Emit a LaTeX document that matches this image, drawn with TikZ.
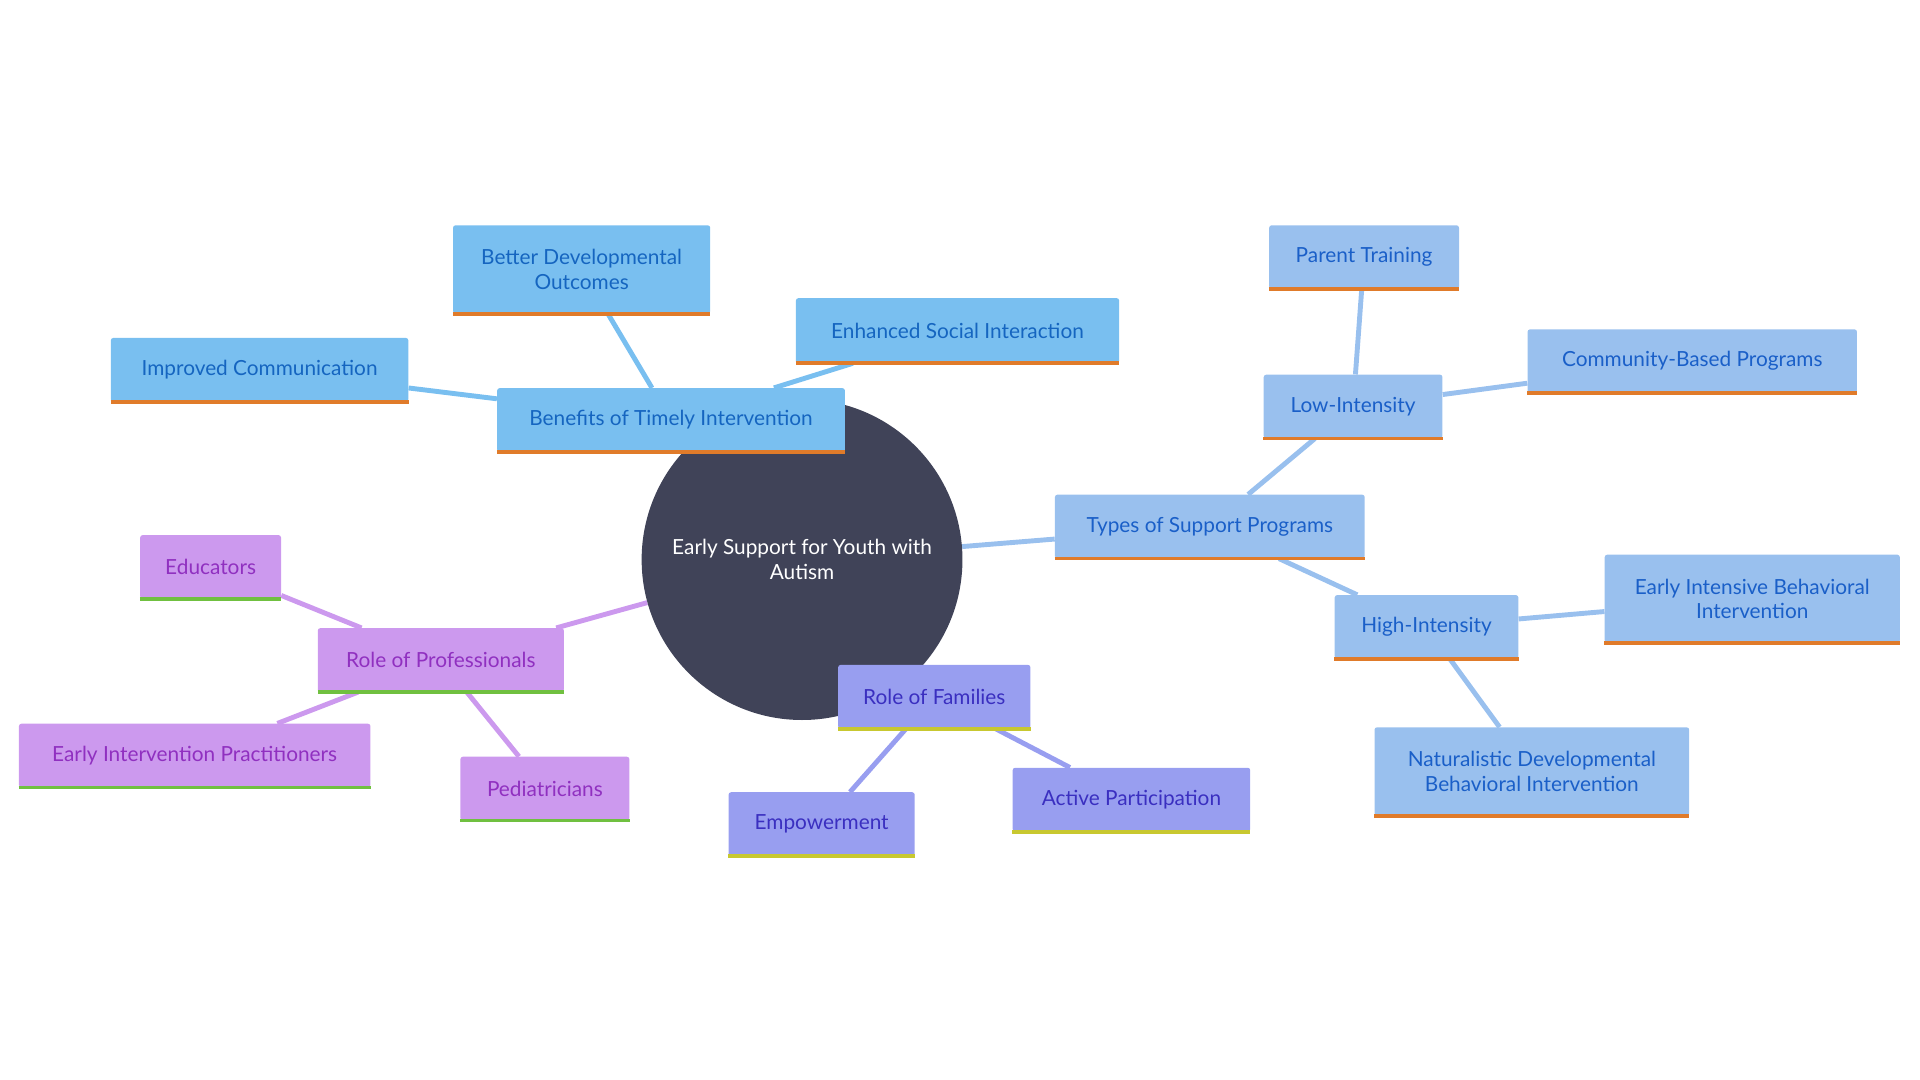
\documentclass[tikz,border=0pt]{standalone}
\usepackage{fontspec}
\setmainfont{Lato}
\usetikzlibrary{backgrounds}
\definecolor{hubfill}{HTML}{404358}
\definecolor{bluefill}{HTML}{79BFF0}
\definecolor{bluetext}{HTML}{1565C0}
\definecolor{skyfill}{HTML}{99C0EE}
\definecolor{skytext}{HTML}{1A5FC8}
\definecolor{violetfill}{HTML}{989EF0}
\definecolor{violettext}{HTML}{3A2FC0}
\definecolor{lilacfill}{HTML}{CC99EE}
\definecolor{lilactext}{HTML}{9030C0}
\definecolor{orangeline}{HTML}{E07B2A}
\definecolor{yellowline}{HTML}{C8C830}
\definecolor{greenline}{HTML}{70C040}
\begin{document}
\begin{tikzpicture}[x=1pt,y=-1pt,
    box/.style={rectangle,rounded corners=2pt,inner sep=0pt,align=center,
                font=\fontsize{17}{20}\selectfont},
    benefit/.style={box,fill=bluefill,text=bluetext},
    program/.style={box,fill=skyfill,text=skytext},
    family/.style={box,fill=violetfill,text=violettext},
    expert/.style={box,fill=lilacfill,text=lilactext},
    link/.style={line width=4pt}]
  \useasboundingbox (0,0) rectangle (1568,882);

  \node[circle,fill=hubfill,text=white,minimum size=262pt,align=center,
        font=\fontsize{17}{20}\selectfont] (hub) at (655,457) {Early Support for Youth with\\Autism};

  \node[benefit,minimum width=284pt,minimum height=52pt] (benefits) at (548,343) {Benefits of Timely Intervention};
  \node[benefit,minimum width=210pt,minimum height=72pt] (better) at (475,220) {Better Developmental\\Outcomes};
  \node[benefit,minimum width=264pt,minimum height=53pt] (social) at (782,270) {Enhanced Social Interaction};
  \node[benefit,minimum width=243pt,minimum height=52pt] (comm) at (212,302) {Improved Communication};

  \node[program,minimum width=253pt,minimum height=52pt] (types) at (988,430) {Types of Support Programs};
  \node[program,minimum width=146pt,minimum height=52pt] (low) at (1105,332) {Low-Intensity};
  \node[program,minimum width=155pt,minimum height=52pt] (parent) at (1114,210) {Parent Training};
  \node[program,minimum width=269pt,minimum height=52pt] (community) at (1382,295) {Community-Based Programs};
  \node[program,minimum width=150pt,minimum height=52pt] (high) at (1165,512) {High-Intensity};
  \node[program,minimum width=241pt,minimum height=72pt] (eibi) at (1431,489) {Early Intensive Behavioral\\Intervention};
  \node[program,minimum width=257pt,minimum height=72pt] (ndbi) at (1251,630) {Naturalistic Developmental\\Behavioral Intervention};

  \node[family,minimum width=157pt,minimum height=52pt] (families) at (763,569) {Role of Families};
  \node[family,minimum width=152pt,minimum height=52pt] (empower) at (671,673) {Empowerment};
  \node[family,minimum width=194pt,minimum height=52pt] (active) at (924,653) {Active Participation};

  \node[expert,minimum width=201pt,minimum height=52pt] (experts) at (360,539) {Role of Professionals};
  \node[expert,minimum width=115pt,minimum height=52pt] (educators) at (172,463) {Educators};
  \node[expert,minimum width=287pt,minimum height=52pt] (practitioners) at (159,617) {Early Intervention Practitioners};
  \node[expert,minimum width=138pt,minimum height=52pt] (pediatricians) at (445,644) {Pediatricians};

  % bottom rules
  \foreach \n in {benefits,better,social,comm,types,low,parent,community,high,eibi,ndbi}
    \draw[orangeline,line width=3pt] (\n.south west) -- (\n.south east);
  \foreach \n in {families,empower,active}
    \draw[yellowline,line width=3pt] (\n.south west) -- (\n.south east);
  \foreach \n in {experts,educators,practitioners,pediatricians}
    \draw[greenline,line width=3pt] (\n.south west) -- (\n.south east);

  \begin{scope}[on background layer]
    \draw[link,bluefill] (hub) -- (benefits);
    \draw[link,bluefill] (benefits) -- (better);
    \draw[link,bluefill] (benefits) -- (social);
    \draw[link,bluefill] (benefits) -- (comm);
    \draw[link,skyfill] (hub) -- (types);
    \draw[link,skyfill] (types) -- (low);
    \draw[link,skyfill] (low) -- (parent);
    \draw[link,skyfill] (low) -- (community);
    \draw[link,skyfill] (types) -- (high);
    \draw[link,skyfill] (high) -- (eibi);
    \draw[link,skyfill] (high) -- (ndbi);
    \draw[link,violetfill] (hub) -- (families);
    \draw[link,violetfill] (families) -- (empower);
    \draw[link,violetfill] (families) -- (active);
    \draw[link,lilacfill] (hub) -- (experts);
    \draw[link,lilacfill] (experts) -- (educators);
    \draw[link,lilacfill] (experts) -- (practitioners);
    \draw[link,lilacfill] (experts) -- (pediatricians);
  \end{scope}
\end{tikzpicture}
\end{document}
